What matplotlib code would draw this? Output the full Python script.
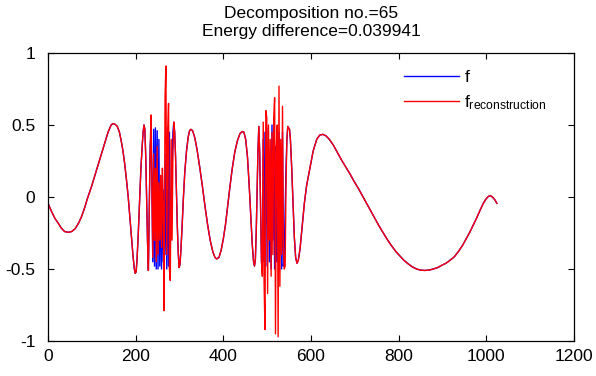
import matplotlib
matplotlib.use("Agg")
import matplotlib.pyplot as plt
import numpy as np

plt.rcParams["font.family"] = ["Liberation Sans", "DejaVu Sans"]
plt.rcParams["mathtext.fontset"] = "custom"
plt.rcParams["mathtext.rm"] = "Liberation Sans"
plt.rcParams["mathtext.it"] = "Liberation Sans:italic"

TITLE = "Decomposition no.=65\nEnergy difference=0.039941"

# smooth part before the first burst
seg_a_x = [0, 8, 16, 23, 30, 38, 46, 54, 62, 70, 76, 83, 90, 99, 106, 114, 122, 130, 137, 144,
           148, 153, 158, 163, 167, 171, 175, 179, 183, 186, 190, 194, 197, 199, 201, 203, 206,
           209, 212, 215, 217, 219, 221, 223, 225, 227]
seg_a_y = [-0.044, -0.10, -0.15, -0.18, -0.215, -0.24, -0.245, -0.24, -0.22, -0.18, -0.14, -0.08,
           -0.01, 0.07, 0.14, 0.22, 0.30, 0.38, 0.45, 0.50, 0.51, 0.505, 0.49, 0.45, 0.39, 0.32,
           0.23, 0.12, 0.0, -0.11, -0.26, -0.41, -0.50, -0.53, -0.52, -0.44, -0.25, -0.02, 0.20,
           0.36, 0.45, 0.50, 0.47, 0.28, 0.0, -0.30]

# first burst
burst1_x = [229, 231, 233, 235, 237, 239, 241, 243, 245, 247, 249, 251, 253, 255, 257, 259, 261,
            263, 265, 267, 269, 271, 273, 275, 277, 279, 281, 283, 285, 287]
burst1_f = [-0.51, -0.10, 0.35, 0.45, 0.10, -0.45, 0.47, -0.48, 0.48, -0.50, 0.46, -0.50, 0.40,
            -0.48, 0.10, -0.50, 0.15, -0.45, 0.05, -0.40, 0.30, -0.50, 0.48, -0.48, 0.45, -0.35,
            -0.10, 0.20, 0.45, 0.52]
burst1_rec = [-0.51, -0.10, 0.30, 0.57, 0.05, -0.42, 0.30, -0.30, 0.20, -0.45, 0.35, -0.40, 0.10,
              -0.30, 0.15, -0.35, 0.20, -0.10, -0.79, 0.69, 0.91, -0.40, 0.45, 0.65, -0.50, -0.58,
              0.40, -0.30, 0.30, 0.52]

# smooth part between the bursts
seg_b_x = [289, 291, 293, 295, 297, 299, 301, 303, 306, 309, 312, 316, 320, 323, 326, 330, 335,
           340, 346, 352, 358, 364, 370, 376, 381, 385, 390, 395, 400, 405, 410, 415, 420, 426,
           432, 438, 443, 447, 451, 455, 459, 463, 466, 469, 471, 473, 475, 477, 479]
seg_b_y = [0.45, 0.28, 0.05, -0.20, -0.38, -0.49, -0.47, -0.38, -0.20, 0.0, 0.17, 0.32, 0.42,
           0.46, 0.47, 0.46, 0.41, 0.33, 0.21, 0.08, -0.06, -0.19, -0.30, -0.38, -0.42, -0.43,
           -0.42, -0.37, -0.29, -0.19, -0.06, 0.07, 0.19, 0.31, 0.39, 0.44, 0.455, 0.45, 0.40,
           0.28, 0.08, -0.15, -0.33, -0.45, -0.48, -0.44, -0.25, 0.05, 0.32]

# second burst
burst2_x = [481, 483, 485, 487, 489, 491, 493, 495, 497, 499, 501, 503, 505, 507, 509, 511, 513,
            515, 517, 519, 521, 523, 525, 527, 529, 531, 533, 535, 537, 539, 541, 543, 545, 547,
            549]
burst2_f = [0.49, 0.30, -0.10, -0.45, -0.50, 0.40, -0.45, 0.45, -0.48, 0.48, -0.20, 0.30, -0.45,
            0.10, -0.50, 0.50, -0.30, 0.45, -0.50, 0.35, -0.45, 0.40, -0.45, 0.45, -0.40, 0.30,
            -0.50, 0.45, -0.48, -0.40, -0.10, 0.20, 0.40, 0.49, 0.48]
burst2_rec = [0.49, 0.30, -0.10, -0.45, -0.55, 0.52, -0.60, -0.92, 0.60, 0.55, -0.67, 0.50, -0.30,
              0.40, -0.55, 0.45, -0.40, 0.55, 0.69, -0.95, 0.35, 0.50, -0.97, 0.77, -0.62, 0.40,
              -0.40, 0.63, -0.35, -0.50, -0.48, 0.10, 0.40, 0.49, 0.48]

# smooth tail
seg_c_x = [551, 553, 556, 559, 562, 565, 568, 571, 575, 580, 585, 590, 598, 605, 613, 620, 627,
           634, 642, 651, 660, 670, 680, 689, 698, 708, 717, 727, 736, 746, 755, 765, 775, 784,
           794, 803, 812, 822, 831, 841, 850, 860, 870, 879, 889, 898, 908, 917, 927, 936, 946,
           955, 963, 970, 978, 986, 993, 999, 1005, 1010, 1015, 1020, 1024]
seg_c_y = [0.47, 0.40, 0.20, -0.05, -0.28, -0.42, -0.46, -0.44, -0.36, -0.20, -0.04, 0.08, 0.21,
           0.32, 0.40, 0.43, 0.435, 0.425, 0.40, 0.36, 0.31, 0.255, 0.205, 0.16, 0.11, 0.06, 0.01,
           -0.044, -0.095, -0.15, -0.20, -0.25, -0.30, -0.34, -0.38, -0.41, -0.44, -0.465, -0.485,
           -0.50, -0.508, -0.51, -0.507, -0.50, -0.49, -0.475, -0.46, -0.44, -0.415, -0.38, -0.335,
           -0.285, -0.24, -0.195, -0.145, -0.09, -0.045, -0.015, 0.005, 0.008, -0.003, -0.022,
           -0.044]

x_ticks = [0, 200, 400, 600, 800, 1000, 1200]
y_ticks = [-1, -0.5, 0, 0.5, 1]
y_tick_labels = ["-1", "-0.5", "0", "0.5", "1"]

x_all = seg_a_x + burst1_x + seg_b_x + burst2_x + seg_c_x
f = seg_a_y + burst1_f + seg_b_y + burst2_f + seg_c_y
f_rec = seg_a_y + burst1_rec + seg_b_y + burst2_rec + seg_c_y

fig = plt.figure(figsize=(5.96, 3.76), dpi=100)
ax = fig.add_axes([48 / 596, 35 / 376, 526 / 596, 288 / 376])
ax.plot(x_all, f, color="#0000ff", lw=1.0, label="f")
ax.plot(x_all, f_rec, color="#ff0000", lw=1.0, label=r"f$_{\mathrm{reconstruction}}$")

ax.set_xlim(0, 1200)
ax.set_ylim(-1, 1)
ax.set_xticks(x_ticks)
ax.set_yticks(y_ticks)
ax.set_yticklabels(y_tick_labels)
ax.tick_params(direction="in", top=True, right=True, length=4, width=0.8, labelsize=12.5)
ax.tick_params(axis="y", pad=9)
ax.tick_params(axis="x", pad=6)
for s in ax.spines.values():
    s.set_linewidth(0.9)
ax.set_title(TITLE, fontsize=12.5, linespacing=1.3, pad=12)
ax.legend(loc="upper right", bbox_to_anchor=(0.962, 0.965), frameon=False, fontsize=12.5,
          handlelength=3.2, handletextpad=0.3, labelspacing=0.45, borderaxespad=0)

fig.savefig("out.png", dpi=100, facecolor="white")
